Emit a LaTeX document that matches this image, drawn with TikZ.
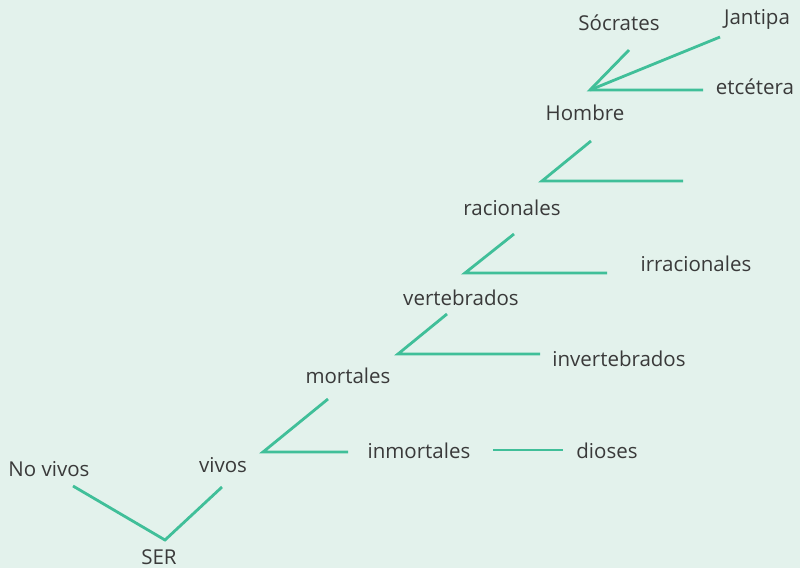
\documentclass[tikz,border=0pt]{standalone}
\usepackage{fontspec}
\setmainfont{Open Sans}
\definecolor{bg}{HTML}{E3F2EC}
\definecolor{ln}{HTML}{40BF99}
\definecolor{tx}{HTML}{3A3A3A}
\tikzset{
  lbl/.style={text=tx, font=\fontsize{20.5}{24}\selectfont, inner sep=0pt},
  br/.style={draw=ln, line width=2.8pt, line join=miter}
}
\begin{document}
\begin{tikzpicture}[x=1pt,y=-1pt]
\fill[bg] (0,0) rectangle (800,568);
\useasboundingbox (0,0) rectangle (800,568);
% labels
\node[lbl] (socrates) at (619,23) {Sócrates};
\node[lbl] (jantipa) at (757,19) {Jantipa};
\node[lbl] (etcetera) at (755,87) {etcétera};
\node[lbl] (hombre) at (585,113) {Hombre};
\node[lbl] (racionales) at (512,208) {racionales};
\node[lbl] (irracionales) at (696,264) {irracionales};
\node[lbl] (vertebrados) at (461,298) {vertebrados};
\node[lbl] (invertebrados) at (619,359) {invertebrados};
\node[lbl] (mortales) at (348,376) {mortales};
\node[lbl] (inmortales) at (419,451) {inmortales};
\node[lbl] (dioses) at (607,451) {dioses};
\node[lbl] (vivos) at (223,465) {vivos};
\node[lbl] (novivos) at (49,469) {No vivos};
\node[lbl] (ser) at (159,557) {SER};
% branch points
\coordinate (s0) at (165,540);
\coordinate (s1) at (73,486);
\coordinate (s2) at (222,487);
\coordinate (v0) at (263,452);
\coordinate (v1) at (328,399);
\coordinate (v2) at (348,452);
\coordinate (d1) at (493,450);
\coordinate (d2) at (563,450);
\coordinate (m0) at (398,354);
\coordinate (m1) at (447,314);
\coordinate (m2) at (540,354);
\coordinate (e0) at (465,273);
\coordinate (e1) at (514,234);
\coordinate (e2) at (607,273);
\coordinate (r0) at (542,181);
\coordinate (r1) at (591,141);
\coordinate (r2) at (683,181);
\coordinate (h0) at (590,90);
\coordinate (h1) at (629,50);
\coordinate (h2) at (720,37);
\coordinate (h3) at (703,90);
% connectors
\draw[br] (s1) -- (s0) -- (s2);
\draw[br] (v1) -- (v0) -- (v2);
\draw[br] (d1) -- (d2);
\draw[br] (m1) -- (m0) -- (m2);
\draw[br] (e1) -- (e0) -- (e2);
\draw[br] (r1) -- (r0) -- (r2);
\draw[br] (h1) -- (h0) -- (h3);
\draw[br] (h0) -- (h2);
\end{tikzpicture}
\end{document}
